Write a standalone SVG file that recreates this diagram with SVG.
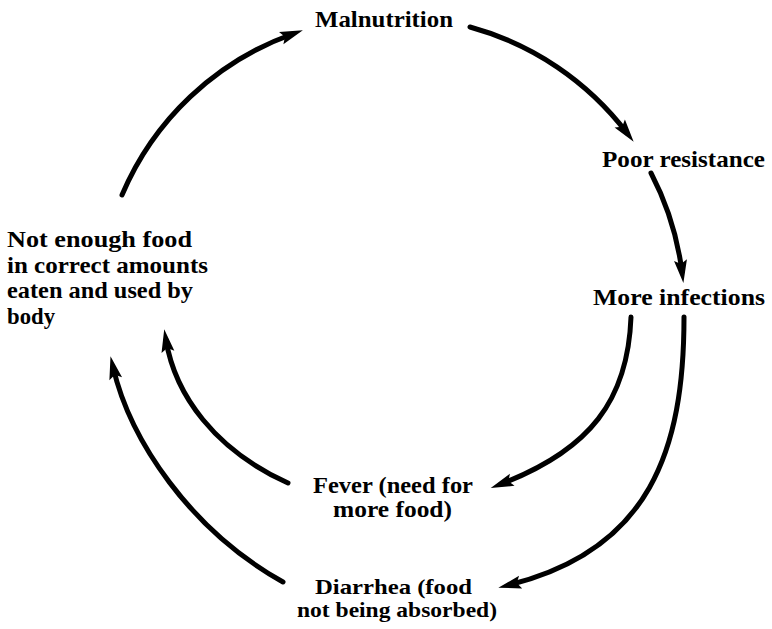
<svg xmlns="http://www.w3.org/2000/svg" width="772" height="629" viewBox="0 0 772 629">
<style>
text{font-family:"Liberation Serif","DejaVu Serif","Times New Roman",serif;font-weight:bold;font-size:23px;fill:#000}
.s{font-size:21px}
.c{fill:none;stroke:#000;stroke-width:5;stroke-linecap:round}
</style>
<defs>
<marker id="ah" markerUnits="userSpaceOnUse" markerWidth="30" markerHeight="20" viewBox="-2 -10 30 20" refX="12" refY="0" orient="auto">
<path d="M0,-6.5 L23,0 L0,6.5 L4,0 Z" fill="#000"/>
</marker>
</defs>
<rect width="772" height="629" fill="#fff"/>
<g id="connectors">
<path class="c" marker-end="url(#ah)" d="M122,195 A292,292 0 0 1 292.5,34"/>
<path class="c" marker-end="url(#ah)" d="M470,27 A295,295 0 0 1 627,133"/>
<path class="c" marker-end="url(#ah)" d="M651,173 A295,295 0 0 1 682,272"/>
<path class="c" marker-end="url(#ah)" d="M631,317 C628,400 590,450 501,484"/>
<path class="c" marker-end="url(#ah)" d="M684,317 C684,450 650,550 509,585"/>
<path class="c" marker-end="url(#ah)" d="M288,483 C215,450 175,395 166,340"/>
<path class="c" marker-end="url(#ah)" d="M283,582 C190,530 130,440 113,367"/>
</g>
<g id="malnutrition"><text x="315" y="27" textLength="138" lengthAdjust="spacingAndGlyphs">Malnutrition</text></g>
<g id="poor-resistance"><text x="602" y="167" textLength="163" lengthAdjust="spacingAndGlyphs">Poor resistance</text></g>
<g id="more-infections"><text x="593" y="305" textLength="172" lengthAdjust="spacingAndGlyphs">More infections</text></g>
<g id="not-enough-food">
<text x="7" y="247" textLength="185" lengthAdjust="spacingAndGlyphs">Not enough food</text>
<text x="7" y="273" textLength="201" lengthAdjust="spacingAndGlyphs">in correct amounts</text>
<text x="7" y="298" textLength="186" lengthAdjust="spacingAndGlyphs">eaten and used by</text>
<text x="7" y="324" textLength="48" lengthAdjust="spacingAndGlyphs">body</text>
</g>
<g id="fever">
<text x="313" y="493" textLength="160" lengthAdjust="spacingAndGlyphs">Fever (need for</text>
<text x="333" y="517" textLength="119" lengthAdjust="spacingAndGlyphs">more food)</text>
</g>
<g id="diarrhea">
<text class="s" x="315" y="594" textLength="157" lengthAdjust="spacingAndGlyphs">Diarrhea (food</text>
<text class="s" x="297" y="617" textLength="200" lengthAdjust="spacingAndGlyphs">not being absorbed)</text>
</g>
</svg>
